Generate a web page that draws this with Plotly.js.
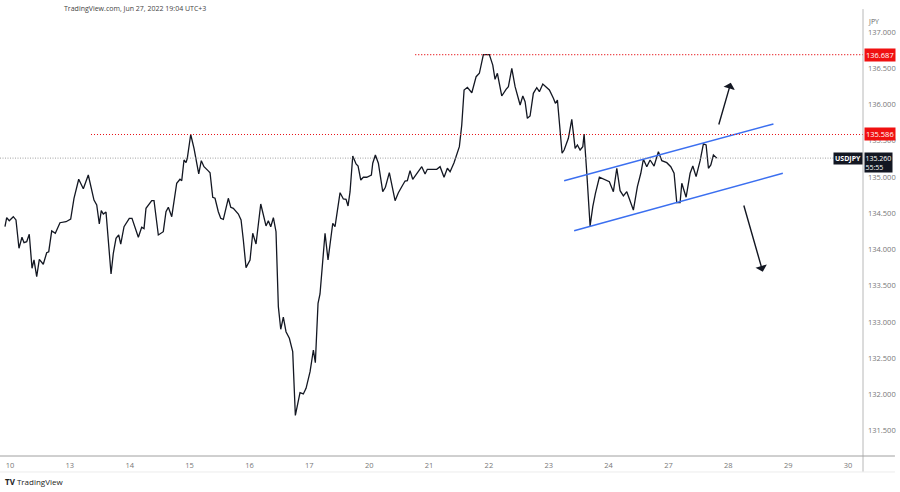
<!DOCTYPE html>
<html>
<head>
<meta charset="utf-8">
<script src="https://cdn.plot.ly/plotly-3.0.1.min.js"></script>
<style>html,body{margin:0;padding:0;background:#fff}#chart{width:900px;height:492px}</style>
</head>
<body>
<div id="chart"></div>
<script>
// trading-day index (0 = Jun 10, 1 = Jun 13, ... weekends skipped)
const dayLabels = ['10','13','14','15','16','17','20','21','22','23','24','27','28','29','30'];
const dayIdx = [-0.084,-0.055,-0.012,0.055,0.100,0.150,0.200,0.234,0.279,0.322,0.368,0.401,0.446,0.490,0.556,0.613,0.647,0.697,0.757,0.835,
0.936,1.014,1.069,1.148,1.225,1.308,1.403,1.449,1.492,1.525,1.559,1.604,1.688,1.726,1.771,1.816,1.850,1.905,1.993,2.038,
2.144,2.200,2.239,2.272,2.368,2.406,2.478,2.561,2.606,2.645,2.702,2.785,2.840,2.869,2.907,2.941,2.962,3.019,3.074,3.153,
3.196,3.241,3.308,3.342,3.387,3.425,3.480,3.520,3.564,3.647,3.688,3.731,3.815,3.860,3.898,3.943,4.010,4.055,4.110,4.189,
4.277,4.316,4.356,4.400,4.444,4.483,4.523,4.566,4.611,4.667,4.723,4.767,4.845,4.900,4.946,5.013,5.068,5.101,5.146,5.179,
5.263,5.313,5.392,5.430,5.514,5.569,5.614,5.647,5.681,5.726,5.781,5.815,5.860,5.903,5.960,5.993,6.037,6.060,6.104,6.154,
6.227,6.271,6.337,6.433,6.488,6.561,6.600,6.638,6.683,6.728,6.879,6.934,6.972,7.072,7.129,7.185,7.251,7.307,7.352,7.418,
7.507,7.547,7.586,7.641,7.715,7.787,7.841,7.908,8.008,8.065,8.103,8.142,8.215,8.287,8.326,8.383,8.438,8.522,8.567,8.605,
8.643,8.688,8.743,8.800,8.844,8.901,9.011,9.078,9.111,9.145,9.223,9.257,9.328,9.385,9.441,9.479,9.524,9.569,9.591,9.636,
9.691,9.736,9.780,9.846,9.925,10.013,10.080,10.137,10.192,10.247,10.304,10.414,10.481,10.538,10.581,10.638,10.693,10.760,10.832,10.889,
10.972,11.039,11.094,11.139,11.194,11.223,11.295,11.362,11.407,11.462,11.529,11.584,11.629,11.668,11.708,11.751,11.808];
const price = [134.314,134.438,134.397,134.452,134.407,134.016,134.168,134.093,134.107,134.209,133.740,133.855,133.624,133.864,133.796,133.955,133.969,134.255,134.223,134.369,
134.383,134.420,134.706,134.968,134.838,135.027,134.682,134.613,134.351,134.535,134.489,134.517,133.662,133.947,134.154,134.200,134.075,134.314,134.430,134.430,
134.168,134.306,134.287,134.568,134.673,134.673,134.200,134.245,134.521,134.582,134.452,134.913,134.968,134.949,135.234,135.197,135.258,135.586,135.395,135.041,
135.224,135.142,135.087,135.059,134.720,134.706,134.521,134.430,134.416,134.706,134.582,134.568,134.489,134.407,134.131,133.749,133.855,134.223,134.075,134.627,
134.324,134.397,134.314,134.438,134.245,133.211,132.899,133.065,132.866,132.775,132.590,131.710,132.024,132.007,132.085,132.314,132.613,132.438,133.258,133.386,
134.223,133.855,134.361,134.314,134.783,134.696,134.692,134.600,134.797,135.289,135.179,135.151,134.958,134.996,134.996,135.013,135.027,135.189,135.303,135.189,
134.797,134.858,135.059,134.673,134.783,134.889,134.944,134.949,135.087,134.968,135.142,135.041,135.106,135.106,135.106,135.142,134.996,135.120,135.073,135.197,
135.418,135.717,136.200,136.237,136.162,136.383,136.430,136.687,136.687,136.544,136.347,136.430,136.117,136.209,136.245,136.499,136.245,135.993,136.117,136.038,
135.809,135.841,136.154,136.231,136.176,136.282,136.200,136.085,136.016,136.062,135.327,135.372,135.533,135.795,135.395,135.441,135.372,135.418,135.593,135.051,
134.324,134.590,134.775,134.996,134.968,134.935,134.797,135.120,134.811,134.738,134.797,134.544,134.866,135.051,135.244,135.142,135.234,135.151,135.349,135.224,
135.197,135.142,135.051,134.645,134.645,134.913,134.720,135.051,135.151,135.004,135.224,135.455,135.441,135.120,135.165,135.303,135.260];

// levels
const resistHigh = 136.687, resistHighFrom = 6.77;
const resistMid = 135.586, resistMidFrom = 1.353;
const lastPrice = 135.260;
// channel lines
const chanUpperX = [9.257, 12.754], chanUpperY = [134.949, 135.731];
const chanLowerX = [9.424, 12.911], chanLowerY = [134.259, 135.051];
// arrows [tailX, tailY, headX, headY]
const arrowUp = [11.834, 135.703, 12.042, 136.300];
const arrowDown = [12.252, 134.627, 12.576, 133.693];
const yTicks = [131.5,132,132.5,133,133.5,134,134.5,135,135.5,136,136.5,137];

const xMin = -0.167, xMax = 14.25;
const F = '"Open Sans", "DejaVu Sans", sans-serif';

const traces = [
  {x: dayIdx, y: price, type:'scatter', mode:'lines', line:{color:'#131722', width:1.3}, hoverinfo:'skip'},
  {x: chanUpperX, y: chanUpperY, type:'scatter', mode:'lines', line:{color:'#3b6ff0', width:1.5}, hoverinfo:'skip'},
  {x: chanLowerX, y: chanLowerY, type:'scatter', mode:'lines', line:{color:'#3b6ff0', width:1.5}, hoverinfo:'skip'}
];

const shapes = [
  {type:'line', xref:'x', yref:'y', x0:resistHighFrom, x1:xMax, y0:resistHigh, y1:resistHigh, line:{color:'#e8141a', width:1.1, dash:'1px,2px'}},
  {type:'line', xref:'x', yref:'y', x0:resistMidFrom, x1:xMax, y0:resistMid, y1:resistMid, line:{color:'#e8141a', width:1.1, dash:'1px,2px'}},
  {type:'line', xref:'x', yref:'y', x0:xMin, x1:13.83, y0:lastPrice, y1:lastPrice, line:{color:'#8a8a8a', width:0.8, dash:'1px,1.5px'}},
  // outer frame bits
  {type:'line', xref:'paper', yref:'paper', x0:1, x1:1, y0:-0.035, y1:0.98, line:{color:'#b8b8b8', width:1}},
  {type:'line', xref:'paper', yref:'paper', x0:0, x1:1.037, y0:0, y1:0, line:{color:'#a0a0a0', width:1}},
  {type:'line', xref:'paper', yref:'paper', x0:0, x1:1.037, y0:-0.035, y1:-0.035, line:{color:'#ececec', width:1}}
];

const annotations = [
  {xref:'paper', yref:'paper', x:0.0718, y:0.982, xanchor:'left', yanchor:'middle', showarrow:false,
   text:'TradingView.com, Jun 27, 2022 19:04 UTC+3', font:{family:F, size:7, color:'#444'}},
  {xref:'paper', yref:'paper', x:1.004, y:0.953, xanchor:'left', yanchor:'middle', showarrow:false,
   text:'JPY', font:{family:F, size:7, color:'#666'}},
  {xref:'paper', yref:'paper', x:0.004, y:-0.057, xanchor:'left', yanchor:'middle', showarrow:false,
   text:'<b>TV</b> TradingView', font:{family:F, size:8, color:'#222'}},
  {xref:'paper', yref:'y', x:1.001, y:resistHigh, xanchor:'left', yanchor:'middle', showarrow:false,
   text:resistHigh.toFixed(3), bgcolor:'#f01010', borderpad:1, font:{family:F, size:7.5, color:'#fff'}},
  {xref:'paper', yref:'y', x:1.001, y:resistMid, xanchor:'left', yanchor:'middle', showarrow:false,
   text:resistMid.toFixed(3), bgcolor:'#f01010', borderpad:1, font:{family:F, size:7.5, color:'#fff'}},
  {xref:'paper', yref:'y', x:1.001, y:lastPrice, xanchor:'left', yanchor:'top', yshift:6, showarrow:false,
   text:lastPrice.toFixed(3)+'<br>55:55', align:'left', bgcolor:'#131722', borderpad:0.5, font:{family:F, size:7, color:'#fff'}},
  {xref:'paper', yref:'y', x:0.9995, y:lastPrice, xanchor:'right', yanchor:'middle', showarrow:false,
   text:'<b>USDJPY</b>', bgcolor:'#131722', borderpad:1, font:{family:F, size:7, color:'#fff'}},
  {xref:'x', yref:'y', axref:'x', ayref:'y', x:arrowUp[2], y:arrowUp[3], ax:arrowUp[0], ay:arrowUp[1],
   showarrow:true, arrowhead:1, arrowsize:1.4, arrowwidth:1.4, arrowcolor:'#131722', text:''},
  {xref:'x', yref:'y', axref:'x', ayref:'y', x:arrowDown[2], y:arrowDown[3], ax:arrowDown[0], ay:arrowDown[1],
   showarrow:true, arrowhead:1, arrowsize:1.4, arrowwidth:1.4, arrowcolor:'#131722', text:''}
];

const layout = {
  width:900, height:492,
  margin:{l:0, r:37, t:0, b:36},
  paper_bgcolor:'#fff', plot_bgcolor:'#fff',
  showlegend:false,
  xaxis:{range:[xMin, xMax], tickmode:'array', tickvals:dayLabels.map((_,i)=>i), ticktext:dayLabels,
    showgrid:false, zeroline:false, showline:false, ticks:'', ticklabelstandoff:3, tickfont:{family:F, size:7.5, color:'#777'}},
  yaxis:{range:[131.151, 137.441], side:'right', tickmode:'array', tickvals:yTicks, ticktext:yTicks.map(v=>v.toFixed(3)),
    showgrid:false, zeroline:false, showline:false, ticks:'', ticklabelstandoff:4, tickfont:{family:F, size:7.5, color:'#777'}},
  shapes:shapes, annotations:annotations
};

Plotly.newPlot('chart', traces, layout, {displayModeBar:false, staticPlot:true});
</script>
</body>
</html>
